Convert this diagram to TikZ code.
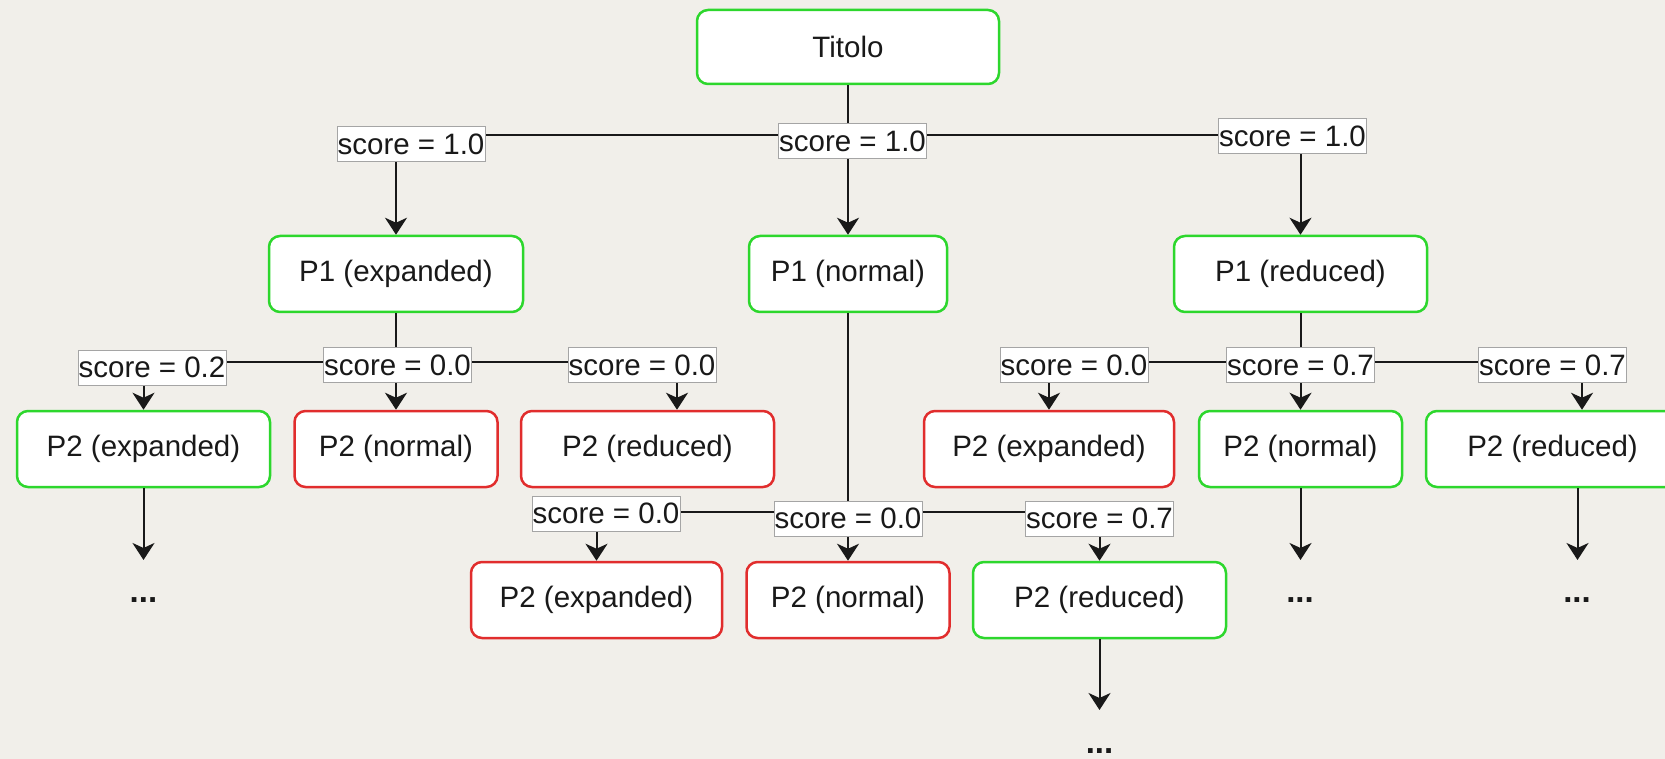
\documentclass[tikz,border=0pt]{standalone}
\usepackage{fontspec}
\setmainfont{Liberation Sans}
\usetikzlibrary{arrows.meta,calc}
\definecolor{bg}{RGB}{241,239,234}
\definecolor{okgreen}{RGB}{45,215,45}
\definecolor{badred}{RGB}{225,45,45}
\definecolor{lblgray}{RGB}{165,165,165}
\definecolor{ink}{RGB}{25,25,25}
\begin{document}
\begin{tikzpicture}[x=1pt,y=-1pt,
  font=\fontsize{29.5}{35}\selectfont,
  box/.style={rectangle, rounded corners=11pt, fill=white, line width=2.5pt,
    minimum height=76pt, inner sep=0pt, text=ink},
  good/.style={box, draw=okgreen},
  bad/.style={box, draw=badred},
  lbl/.style={rectangle, fill=white, draw=lblgray, line width=1pt, inner sep=0pt,
    minimum width=148pt, minimum height=35pt, text=ink},
  edge/.style={line width=2pt, draw=ink, -{Stealth[length=17pt,width=22pt,inset=5pt]}},
  dots/.style={font=\fontsize{33}{35}\selectfont\bfseries, text=ink, inner sep=0pt}]

\fill[bg] (0,0) rectangle (1665,759);
\useasboundingbox (0,0) rectangle (1665,759);

% level 0 and 1
\node[good, minimum width=302pt, minimum height=74pt] (t) at (848,47) {Titolo};
\node[good, minimum width=254pt] (p1e) at (396,274) {P1 (expanded)};
\node[good, minimum width=198pt] (p1n) at (848,274) {P1 (normal)};
\node[good, minimum width=253pt] (p1r) at (1300.5,274) {P1 (reduced)};

% level 2, left group
\node[good, minimum width=253pt] (p2eL) at (143.5,449) {P2 (expanded)};
\node[bad, minimum width=203pt] (p2nL) at (396,449) {P2 (normal)};
\node[bad, minimum width=253pt] (p2rL) at (647.5,449) {P2 (reduced)};

% level 2, middle group
\node[bad, minimum width=251pt] (p2eM) at (596.5,600) {P2 (expanded)};
\node[bad, minimum width=203pt] (p2nM) at (848,600) {P2 (normal)};
\node[good, minimum width=253pt] (p2rM) at (1099.5,600) {P2 (reduced)};

% level 2, right group
\node[bad, minimum width=250pt] (p2eR) at (1049,449) {P2 (expanded)};
\node[good, minimum width=203pt] (p2nR) at (1300.5,449) {P2 (normal)};
\node[good, minimum width=253pt] (p2rR) at (1552.5,449) {P2 (reduced)};

% junctions
\coordinate (tj) at (848,135);
\coordinate (lj) at (396,362);
\coordinate (mj) at (848,512);
\coordinate (rj) at (1300.5,362);

% edges from Titolo
\draw[edge] (t.south) -- (tj) -| (p1e.north);
\draw[edge] (t.south) -- (p1n.north);
\draw[edge] (t.south) -- (tj) -| (p1r.north);

% edges left group
\draw[edge] (p1e.south) -- (lj) -| (p2eL.north);
\draw[edge] (p1e.south) -- (p2nL.north);
\draw[edge] (p1e.south) -- (lj) -| ([xshift=29.5pt]p2rL.north);

% edges middle group
\draw[edge] (p1n.south) -- (mj) -| (p2eM.north);
\draw[edge] (p1n.south) -- (p2nM.north);
\draw[edge] (p1n.south) -- (mj) -| (p2rM.north);

% edges right group
\draw[edge] (p1r.south) -- (rj) -| (p2eR.north);
\draw[edge] (p1r.south) -- (p2nR.north);
\draw[edge] (p1r.south) -- (rj) -| ([xshift=29.5pt]p2rR.north);

% labels
\node[lbl] (s1) at (411,144) {score = 1.0};
\node[lbl] (s2) at (852.5,141.5) {score = 1.0};
\node[lbl] (s3) at (1292.5,136) {score = 1.0};

\node[lbl] (sL1) at (152,367.5) {score = 0.2};
\node[lbl] (sL2) at (397.5,365) {score = 0.0};
\node[lbl] (sL3) at (642,365) {score = 0.0};

\node[lbl] (sM1) at (606,513.5) {score = 0.0};
\node[lbl] (sM2) at (848,518.5) {score = 0.0};
\node[lbl] (sM3) at (1099.5,518.5) {score = 0.7};

\node[lbl] (sR1) at (1074,365) {score = 0.0};
\node[lbl] (sR2) at (1300.5,365) {score = 0.7};
\node[lbl] (sR3) at (1552.5,365) {score = 0.7};

% continuations
\coordinate (cL) at (143.5,560);
\coordinate (cM) at (1099.5,710);
\coordinate (cR1) at (1300.5,560);
\coordinate (cR2) at (1577.5,560);
\draw[edge] (p2eL.south) -- (cL);
\draw[edge] (p2rM.south) -- (cM);
\draw[edge] (p2nR.south) -- (cR1);
\draw[edge] ([xshift=25pt]p2rR.south) -- (cR2);
\node[dots] (dL) at (143.5,600) {...};
\node[dots] (dM) at (1099.5,751) {...};
\node[dots] (dR1) at (1300,600) {...};
\node[dots] (dR2) at (1577,600) {...};
\end{tikzpicture}
\end{document}
